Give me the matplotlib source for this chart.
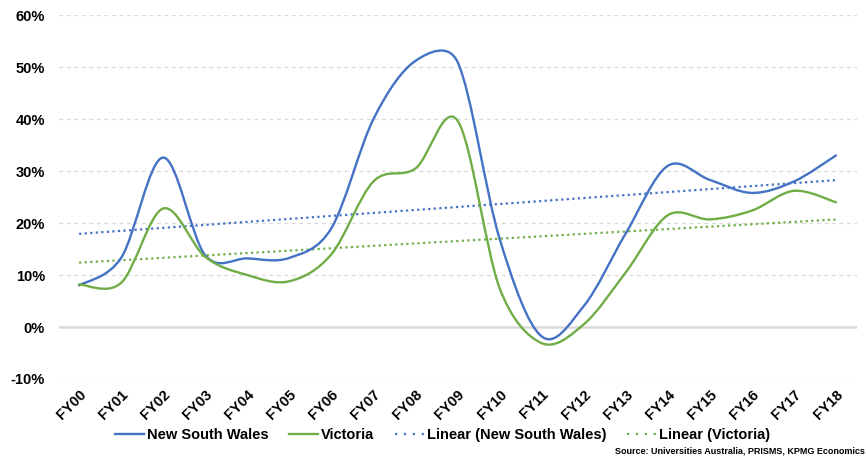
import numpy as np
import matplotlib
matplotlib.use('Agg')
import matplotlib.pyplot as plt
from matplotlib.path import Path
from matplotlib.patches import PathPatch
from matplotlib.lines import Line2D

plt.rcParams['font.family'] = ['Liberation Sans', 'DejaVu Sans']
plt.rcParams['font.weight'] = 'bold'

years = ['FY00', 'FY01', 'FY02', 'FY03', 'FY04', 'FY05', 'FY06', 'FY07', 'FY08', 'FY09',
         'FY10', 'FY11', 'FY12', 'FY13', 'FY14', 'FY15', 'FY16', 'FY17', 'FY18']
nsw = [8.0, 13.3, 32.6, 13.8, 13.2, 13.3, 19.0, 40.0, 51.2, 51.0,
       17.0, -1.8, 4.0, 18.0, 31.0, 28.3, 25.8, 28.0, 33.0]
vic = [8.2, 8.5, 22.8, 13.5, 10.0, 8.8, 14.0, 28.0, 30.5, 39.7,
       7.5, -3.1, 0.5, 10.5, 21.5, 20.7, 22.4, 26.2, 24.0]

blue = '#4472C4'
green = '#70AD47'


def smooth_path(ax, x, y):
    # Catmull-Rom bezier in screen space, control arms capped at half of
    # the segment (about what Excel does for a "smoothed line")
    pts = ax.transData.transform(np.column_stack([x, y]).astype(float))
    n = len(pts)
    v = [(pts[min(i + 1, n - 1)] - pts[max(i - 1, 0)]) / 6.0 for i in range(n)]

    def cap(vec, L):
        m = np.hypot(*vec)
        return vec * min(1.0, L / 2.0 / m) if m > 0 else vec

    verts = [pts[0]]
    codes = [Path.MOVETO]
    for i in range(n - 1):
        L = np.hypot(*(pts[i + 1] - pts[i]))
        verts += [pts[i] + cap(v[i], L), pts[i + 1] - cap(v[i + 1], L), pts[i + 1]]
        codes += [Path.CURVE4] * 3
    verts = ax.transData.inverted().transform(np.array(verts))
    return Path(verts, codes)


fig = plt.figure(figsize=(8.66, 4.58), dpi=100)
ax = fig.add_axes([0.068, 0.1725, 0.9216, 0.7945])
ax.set_xlim(-0.48, 18.5)
ax.set_ylim(-10, 60)

xs = np.arange(len(years))

for vals, col in [(nsw, blue), (vic, green)]:
    ax.add_patch(PathPatch(smooth_path(ax, xs, vals), fill=False, edgecolor=col,
                           lw=1.7, capstyle='round', zorder=3))

# linear trendlines
for vals, col in [(nsw, blue), (vic, green)]:
    k, b = np.polyfit(xs, vals, 1)
    ax.plot(xs, k * xs + b, color=col, lw=1.6, linestyle=(0, (1, 1.5)), zorder=2)

ax.set_yticks(range(-10, 61, 10))
ax.set_yticklabels([f'{v}%' for v in range(-10, 61, 10)], fontsize=10.5, fontweight='bold')
ax.set_xticks(xs)
ax.set_xticklabels(years, rotation=45, ha='right', rotation_mode='anchor',
                   fontsize=10.5, fontweight='bold')
ax.tick_params(length=0)
ax.tick_params(axis='x', pad=6)
ax.tick_params(axis='y', pad=10)

for v in range(-10, 61, 10):
    if v == 0:
        ax.axhline(0, color='#d9d9d9', lw=1.8, zorder=1)
    else:
        ax.axhline(v, color='#d9d9d9', lw=0.9, linestyle=(0, (3, 3)), zorder=1)

for s in ax.spines.values():
    s.set_visible(False)

handles = [
    Line2D([], [], color=blue, lw=1.7),
    Line2D([], [], color=green, lw=1.7),
    Line2D([], [], color=blue, lw=1.6, linestyle=(0, (1, 3))),
    Line2D([], [], color=green, lw=1.6, linestyle=(0, (1, 3))),
]
labels = ['New South Wales', 'Victoria', 'Linear (New South Wales)', 'Linear (Victoria)']
fig.legend(handles, labels, loc='center', bbox_to_anchor=(0.511, 0.05), ncol=4,
           frameon=False, prop={'size': 10.5, 'weight': 'bold'},
           handlelength=2.0, handletextpad=0.2, columnspacing=1.4)

fig.text(0.999, 0.006, 'Source: Universities Australia, PRISMS, KPMG Economics',
         ha='right', va='bottom', fontsize=6.5, fontweight='bold')

fig.savefig('out.png', dpi=100)
